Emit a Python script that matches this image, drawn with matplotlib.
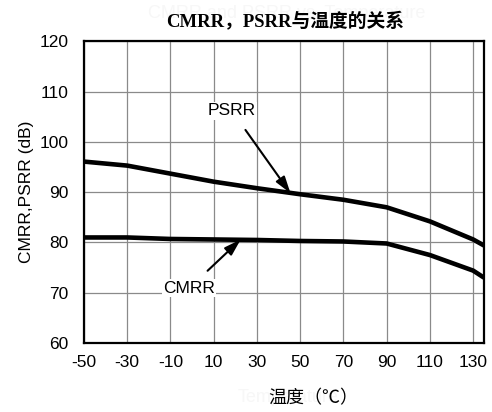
import matplotlib
matplotlib.use("Agg")
import matplotlib.pyplot as plt

# Temperature sweep (°C) and measured rejection ratios (dB)
temp = [-50, -30, -10, 10, 30, 50, 70, 90, 110, 130, 135]
psrr = [96.1, 95.3, 93.7, 92.1, 90.8, 89.6, 88.5, 87.0, 84.2, 80.6, 79.4]
cmrr = [81.0, 81.0, 80.7, 80.6, 80.5, 80.3, 80.2, 79.8, 77.5, 74.4, 73.0]

xticks = [-50, -30, -10, 10, 30, 50, 70, 90, 110, 130]
yticks = [60, 70, 80, 90, 100, 110, 120]

plt.rcParams['font.family'] = ['Liberation Sans', 'Noto Sans CJK SC']
plt.rcParams['axes.unicode_minus'] = False

fig = plt.figure(figsize=(4.92, 4.12), dpi=100)
ax = fig.add_axes([0.1707, 0.1675, 0.813, 0.7318])

ax.plot(temp, psrr, color='black', lw=3.3, solid_capstyle='butt', zorder=3)
ax.plot(temp, cmrr, color='black', lw=3.3, solid_capstyle='butt', zorder=3)

ax.set_xlim(-50, 135)
ax.set_ylim(60, 120)
ax.set_xticks(xticks)
ax.set_yticks(yticks)
ax.tick_params(length=0, labelsize=12.5, pad=9)
ax.tick_params(axis='y', pad=11)
ax.grid(True, color='#8a8a8a', lw=0.9)
ax.set_axisbelow(True)
for s in ax.spines.values():
    s.set_linewidth(1.6)
    s.set_zorder(4)

ax.set_ylabel('CMRR,PSRR (dB)', fontsize=12.5, labelpad=4)

# curve labels with arrows
arrow = dict(arrowstyle='-|>,head_length=0.8,head_width=0.25',
             color='black', lw=1.5, shrinkA=9, shrinkB=0)
ax.annotate('PSRR', xy=(45.5, 89.8), xytext=(18.4, 106.2),
            ha='center', va='center', fontsize=12.5,
            bbox=dict(fc='white', ec='none', pad=1), arrowprops=arrow)
ax.annotate('CMRR', xy=(22.5, 80.6), xytext=(-1.4, 70.9),
            ha='center', va='center', fontsize=12.5,
            bbox=dict(fc='white', ec='none', pad=1), arrowprops=arrow)

# faint English captions underneath the Chinese ones
fig.text(287 / 492, 1 - 13 / 412, 'CMRR and PSRR vs. Temperature', ha='center', va='center',
         fontsize=13, color='#f7f7f7', zorder=0)
fig.text(288 / 492, 1 - 398 / 412, 'Temperature', ha='center', va='center',
         fontsize=13, color='#f7f7f7', zorder=0)

fig.text(285 / 492, 1 - 22 / 412, 'CMRR，PSRR与温度的关系', ha='center', va='center',
         fontsize=13.5, fontweight='bold',
         family=['Liberation Serif', 'Noto Sans CJK SC'])
fig.text(313 / 492, 1 - 398 / 412, '温度（℃）', ha='center', va='center',
         fontsize=13, family=['Noto Sans CJK SC', 'DejaVu Sans'])

fig.savefig('out.png', dpi=100)
